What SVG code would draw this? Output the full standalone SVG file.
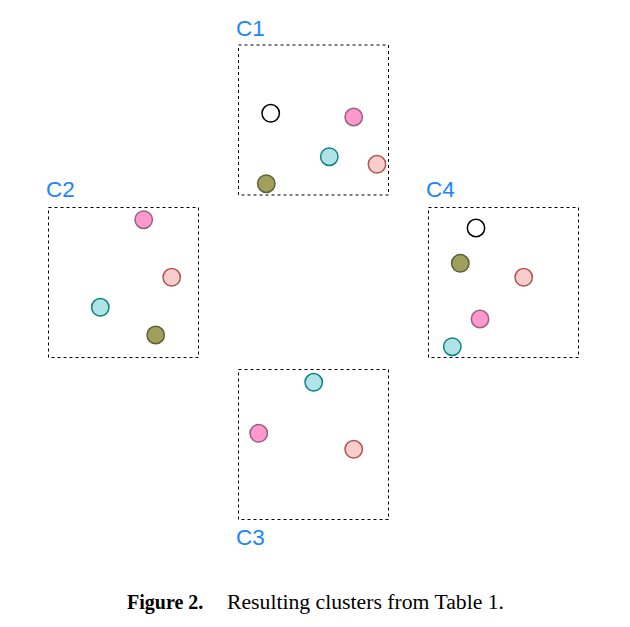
<svg xmlns="http://www.w3.org/2000/svg" width="630" height="627" viewBox="0 0 630 627">
<style>
.box{fill:none;stroke:#000;stroke-width:1;stroke-dasharray:3 3}
.lbl{font-family:"Liberation Sans",Arial,sans-serif;font-size:22.5px;fill:#1a85ff}
.pt{stroke-width:1.5}
.blk{fill:#fff;stroke:#000}
.pink{fill:#ff99cc;stroke:#996185}
.cyan{fill:#b0e3e6;stroke:#0e8088}
.sal{fill:#f8cecc;stroke:#b85450}
.olv{fill:#a0a05c;stroke:#5e5e38}
.cap{font-family:"Liberation Serif","Times New Roman",serif;font-size:20px;fill:#000}
</style>
<rect width="630" height="627" fill="#fff"/>
<g id="connectors"/>
<g id="C1">
<rect class="box" x="238.5" y="45" width="150" height="150"/>
<text class="lbl" x="236" y="36">C1</text>
<circle class="pt blk" cx="270.7" cy="113.3" r="8.7"/>
<circle class="pt pink" cx="353.7" cy="117" r="8.7"/>
<circle class="pt cyan" cx="329.3" cy="156.7" r="8.7"/>
<circle class="pt sal" cx="377" cy="164.3" r="8.7"/>
<circle class="pt olv" cx="266.3" cy="183.7" r="8.7"/>
</g>
<g id="C2">
<rect class="box" x="48.5" y="207.5" width="150" height="150"/>
<text class="lbl" x="46" y="196.5">C2</text>
<circle class="pt pink" cx="143.7" cy="219.7" r="8.7"/>
<circle class="pt sal" cx="171.7" cy="277.3" r="8.7"/>
<circle class="pt cyan" cx="100.3" cy="307.3" r="8.7"/>
<circle class="pt olv" cx="155.7" cy="335" r="8.7"/>
</g>
<g id="C4">
<rect class="box" x="428.5" y="207.5" width="150" height="150"/>
<text class="lbl" x="426" y="196.5">C4</text>
<circle class="pt blk" cx="476" cy="228" r="8.7"/>
<circle class="pt olv" cx="460.3" cy="263.3" r="8.7"/>
<circle class="pt sal" cx="523.7" cy="277.3" r="8.7"/>
<circle class="pt pink" cx="480" cy="319" r="8.7"/>
<circle class="pt cyan" cx="452.3" cy="346.7" r="8.7"/>
</g>
<g id="C3">
<rect class="box" x="238.5" y="369.5" width="150" height="150"/>
<text class="lbl" x="236" y="545">C3</text>
<circle class="pt cyan" cx="313.7" cy="382.3" r="8.7"/>
<circle class="pt pink" cx="258.7" cy="433.3" r="8.7"/>
<circle class="pt sal" cx="353.7" cy="449.3" r="8.7"/>
</g>
<g id="caption">
<text class="cap" x="127" y="608.5" font-weight="bold">Figure 2.</text>
<text class="cap" x="227" y="608.5" textLength="277" lengthAdjust="spacingAndGlyphs">Resulting clusters from Table 1.</text>
</g>
</svg>
